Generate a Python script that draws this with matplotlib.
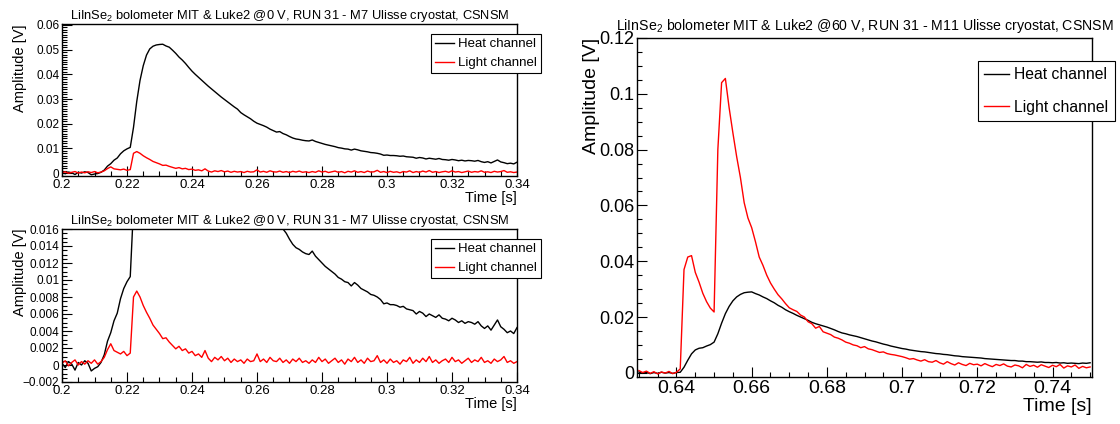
import numpy as np
import matplotlib
matplotlib.use("Agg")
import matplotlib.pyplot as plt
from matplotlib.ticker import MultipleLocator

plt.rcParams['font.family'] = ['Liberation Sans', 'DejaVu Sans']
plt.rcParams['mathtext.fontset'] = 'custom'
plt.rcParams['mathtext.rm'] = 'Liberation Sans'
plt.rcParams['mathtext.it'] = 'Liberation Sans'

# ---- 0 V pulse (left panels), 1 ms sampling from 0.200 s to 0.340 s ----
t0_start, t0_step = 0.200, 0.001
heat_0v = [
    0.0002, -0.0003, 0.0004, 0.0001, -0.0006, 0.0003, 0.0000, 0.0005, 0.0002, -0.0007,
    -0.0004, -0.0002, 0.0003, 0.0012, 0.0028, 0.0038, 0.0052, 0.0061, 0.0078, 0.0090,
    0.0098, 0.0104, 0.0185, 0.0290, 0.0375, 0.0435, 0.0478, 0.0503, 0.0514, 0.0519,
    0.0521, 0.0522, 0.0515, 0.0510, 0.0498, 0.0485, 0.0470, 0.0458, 0.0444, 0.0428,
    0.0413, 0.0400, 0.0388, 0.0376, 0.0364, 0.0352, 0.0341, 0.0330, 0.0319, 0.0308,
    0.0298, 0.0288, 0.0278, 0.0268, 0.0259, 0.0245, 0.0236, 0.0228, 0.0220, 0.0210,
    0.0202, 0.0197, 0.0192, 0.0186, 0.0178, 0.0172, 0.0166, 0.0168, 0.0160, 0.0155,
    0.0148, 0.0142, 0.0138, 0.0136, 0.0133, 0.0131, 0.0130, 0.0134, 0.0128, 0.0124,
    0.0120, 0.0116, 0.0113, 0.0110, 0.0107, 0.0103, 0.0101, 0.0098, 0.0097, 0.0093,
    0.0097, 0.0094, 0.0090, 0.0088, 0.0086, 0.0083, 0.0082, 0.0080, 0.0077, 0.0072,
    0.0073, 0.0071, 0.0071, 0.0070, 0.0068, 0.0069, 0.0066, 0.0065, 0.0064, 0.0060,
    0.0063, 0.0061, 0.0057, 0.0060, 0.0058, 0.0056, 0.0059, 0.0055, 0.0054, 0.0052,
    0.0055, 0.0053, 0.0050, 0.0052, 0.0049, 0.0051, 0.0050, 0.0048, 0.0051, 0.0046,
    0.0043, 0.0046, 0.0041, 0.0047, 0.0053, 0.0045, 0.0042, 0.0038, 0.0040, 0.0037,
    0.0044,
]
light_0v = [
    0.0002, 0.0005, -0.0001, 0.0003, 0.0006, 0.0000, 0.0004, 0.0001, 0.0005, 0.0002,
    0.0006, 0.0001, 0.0004, 0.0009, 0.0018, 0.0025, 0.0017, 0.0015, 0.0013, 0.0016,
    0.0011, 0.0014, 0.0080, 0.0087, 0.0080, 0.0070, 0.0062, 0.0055, 0.0047, 0.0042,
    0.0037, 0.0031, 0.0032, 0.0027, 0.0023, 0.0019, 0.0022, 0.0017, 0.0019, 0.0014,
    0.0016, 0.0011, 0.0013, 0.0009, 0.0017, 0.0008, 0.0004, 0.0009, 0.0006, 0.0010,
    0.0005, 0.0008, 0.0003, 0.0007, 0.0004, 0.0006, 0.0002, 0.0007, 0.0004, 0.0005,
    0.0013, 0.0004, 0.0007, 0.0003, 0.0009, 0.0005, 0.0004, 0.0008, 0.0003, 0.0006,
    0.0002, 0.0007, 0.0004, 0.0008, 0.0003, 0.0005, 0.0002, 0.0006, 0.0003, 0.0009,
    0.0004, 0.0007, 0.0002, 0.0005, 0.0008, 0.0003, 0.0006, 0.0001, 0.0007, 0.0004,
    0.0009, 0.0003, 0.0006, 0.0002, 0.0008, 0.0004, 0.0005, 0.0011, 0.0003, 0.0006,
    0.0002, 0.0007, 0.0003, 0.0005, 0.0001, 0.0006, 0.0004, 0.0009, 0.0002, 0.0006,
    0.0003, 0.0008, 0.0004, 0.0010, 0.0003, 0.0006, 0.0002, 0.0005, 0.0007, 0.0003,
    0.0009, 0.0004, 0.0006, 0.0002, 0.0005, 0.0008, 0.0003, 0.0006, 0.0004, 0.0009,
    0.0003, 0.0005, 0.0002, 0.0007, 0.0004, 0.0006, 0.0010, 0.0003, 0.0005, 0.0002,
    0.0004,
]

# ---- 60 V pulse (right panel), 1 ms sampling from 0.630 s to 0.750 s ----
t60_start, t60_step = 0.630, 0.001
heat_60v = [
    0.0003, -0.0002, 0.0002, -0.0003, 0.0001, -0.0002, 0.0002, -0.0001, 0.0001, -0.0002,
    0.0001, 0.0002, 0.0020, 0.0045, 0.0068, 0.0082, 0.0088, 0.0090, 0.0096, 0.0101,
    0.0110, 0.0140, 0.0178, 0.0212, 0.0238, 0.0258, 0.0272, 0.0281, 0.0287, 0.0289,
    0.0290, 0.0284, 0.0279, 0.0272, 0.0266, 0.0258, 0.0251, 0.0242, 0.0235, 0.0226,
    0.0219, 0.0213, 0.0206, 0.0200, 0.0194, 0.0188, 0.0181, 0.0176, 0.0172, 0.0168,
    0.0164, 0.0159, 0.0154, 0.0148, 0.0143, 0.0140, 0.0136, 0.0133, 0.0130, 0.0126,
    0.0122, 0.0118, 0.0114, 0.0111, 0.0107, 0.0103, 0.0100, 0.0096, 0.0093, 0.0090,
    0.0087, 0.0085, 0.0082, 0.0080, 0.0078, 0.0076, 0.0075, 0.0073, 0.0071, 0.0069,
    0.0068, 0.0066, 0.0065, 0.0063, 0.0061, 0.0060, 0.0058, 0.0057, 0.0056, 0.0055,
    0.0054, 0.0053, 0.0051, 0.0050, 0.0049, 0.0048, 0.0047, 0.0046, 0.0045, 0.0044,
    0.0044, 0.0042, 0.0042, 0.0040, 0.0040, 0.0039, 0.0038, 0.0039, 0.0037, 0.0037,
    0.0036, 0.0037, 0.0035, 0.0036, 0.0034, 0.0035, 0.0034, 0.0033, 0.0035, 0.0034,
    0.0036,
]
light_60v = [
    0.0008, 0.0001, 0.0006, -0.0002, 0.0004, -0.0004, 0.0003, -0.0001, 0.0005, -0.0003,
    0.0002, 0.0014, 0.0370, 0.0415, 0.0420, 0.0360, 0.0325, 0.0285, 0.0255, 0.0232,
    0.0218, 0.0800, 0.1040, 0.1055, 0.0950, 0.0860, 0.0775, 0.0700, 0.0610, 0.0555,
    0.0520, 0.0470, 0.0415, 0.0385, 0.0350, 0.0322, 0.0300, 0.0280, 0.0265, 0.0248,
    0.0233, 0.0226, 0.0220, 0.0207, 0.0200, 0.0183, 0.0176, 0.0160, 0.0166, 0.0147,
    0.0142, 0.0137, 0.0128, 0.0124, 0.0118, 0.0110, 0.0106, 0.0100, 0.0097, 0.0090,
    0.0094, 0.0086, 0.0083, 0.0078, 0.0073, 0.0075, 0.0069, 0.0066, 0.0064, 0.0061,
    0.0058, 0.0054, 0.0049, 0.0051, 0.0046, 0.0042, 0.0047, 0.0040, 0.0038, 0.0044,
    0.0036, 0.0031, 0.0040, 0.0033, 0.0028, 0.0036, 0.0030, 0.0026, 0.0034, 0.0029,
    0.0031, 0.0025, 0.0033, 0.0027, 0.0022, 0.0030, 0.0026, 0.0032, 0.0024, 0.0021,
    0.0028, 0.0025, 0.0018, 0.0030, 0.0023, 0.0027, 0.0020, 0.0029, 0.0024, 0.0019,
    0.0027, 0.0022, 0.0030, 0.0017, 0.0025, 0.0021, 0.0028, 0.0016, 0.0023, 0.0018,
    0.0021,
]

time_0v = t0_start + t0_step * np.arange(len(heat_0v))
time_60v = t60_start + t60_step * np.arange(len(heat_60v))

title_0v = "LiInSe$_2$ bolometer MIT & Luke2 @0 V, RUN 31 - M7 Ulisse cryostat, CSNSM"
title_60v = "LiInSe$_2$ bolometer MIT & Luke2 @60 V, RUN 31 - M11 Ulisse cryostat, CSNSM"

W, H = 1120, 424
fig = plt.figure(figsize=(W / 100, H / 100), dpi=100)


def px_axes(left, top, right, bottom):
    return fig.add_axes([left / W, 1 - bottom / H, (right - left) / W, (bottom - top) / H])


def root_style(ax, fs_tick_x, fs_tick_y, xmaj, xmin, ymaj, ymin):
    ax.xaxis.set_major_locator(MultipleLocator(xmaj))
    ax.xaxis.set_minor_locator(MultipleLocator(xmin))
    ax.yaxis.set_major_locator(MultipleLocator(ymaj))
    ax.yaxis.set_minor_locator(MultipleLocator(ymin))
    ax.tick_params(which='both', direction='in', top=False, right=False)
    ax.tick_params(which='major', length=7, width=0.8)
    ax.tick_params(which='minor', length=3.5, width=0.8)
    ax.tick_params(axis='x', labelsize=fs_tick_x, pad=2)
    ax.tick_params(axis='y', labelsize=fs_tick_y, pad=2)
    ax.xaxis.set_major_formatter(plt.FuncFormatter(lambda v, p: ('%g' % round(v, 6))))
    ax.yaxis.set_major_formatter(plt.FuncFormatter(
        lambda v, p: ('%g' % round(v, 6)).replace('-', '\u2212')))
    for s in ax.spines.values():
        s.set_linewidth(1.0)


def add_legend(ax, left, top, fs, hlen, lspace, bpad):
    leg = ax.legend(loc='upper left', bbox_to_anchor=(left / W, 1 - top / H),
                    bbox_transform=fig.transFigure, fontsize=fs, fancybox=False,
                    framealpha=1, edgecolor='black', handlelength=hlen,
                    handletextpad=0.3, labelspacing=lspace, borderpad=bpad,
                    borderaxespad=0)
    leg.get_frame().set_linewidth(0.8)
    return leg


def place_ylabel(ax, text, fs, right_px, top_px):
    ax.set_ylabel(text, fontsize=fs, loc='top')
    ax.yaxis.set_label_coords(right_px / W, 1 - top_px / H, transform=fig.transFigure)


# top-left: full 0 V pulse
ax1 = px_axes(62, 24, 517, 176)
ax1.plot(time_0v, heat_0v, color='black', lw=1.0, label='Heat channel')
ax1.plot(time_0v, light_0v, color='red', lw=1.0, label='Light channel')
ax1.set_xlim(0.2, 0.34)
ax1.set_ylim(-0.0012, 0.0604)
root_style(ax1, 9.5, 8.5, 0.02, 0.005, 0.01, 0.001)
ax1.set_title(title_0v, fontsize=9.3, pad=3)
ax1.set_xlabel('Time [s]', fontsize=10.5, loc='right', labelpad=0)
place_ylabel(ax1, 'Amplitude [V]', 10.5, 27, 24)
add_legend(ax1, 431, 34, 9.5, 1.45, 0.53, 0.3)

# bottom-left: zoom on the baseline of the same pulse
ax2 = px_axes(62, 229, 517, 382)
ax2.plot(time_0v, heat_0v, color='black', lw=1.0, label='Heat channel')
ax2.plot(time_0v, light_0v, color='red', lw=1.0, label='Light channel')
ax2.set_xlim(0.2, 0.34)
ax2.set_ylim(-0.002, 0.016)
root_style(ax2, 9.5, 8.5, 0.02, 0.005, 0.002, 0.0005)
ax2.set_title(title_0v, fontsize=9.3, pad=3)
ax2.set_xlabel('Time [s]', fontsize=10.5, loc='right', labelpad=0)
place_ylabel(ax2, 'Amplitude [V]', 10.5, 27, 229)
add_legend(ax2, 431, 239, 9.5, 1.45, 0.53, 0.3)

# right: 60 V pulse
ax3 = px_axes(637, 38, 1092, 377)
ax3.plot(time_60v, heat_60v, color='black', lw=1.0, label='Heat channel')
ax3.plot(time_60v, light_60v, color='red', lw=1.0, label='Light channel')
ax3.set_xlim(0.6295, 0.7505)
ax3.set_ylim(-0.0015, 0.12)
root_style(ax3, 14, 13, 0.02, 0.005, 0.02, 0.005)
ax3.set_title(title_60v, fontsize=10.2, pad=6)
ax3.set_xlabel('Time [s]', fontsize=14, loc='right', labelpad=1)
place_ylabel(ax3, 'Amplitude [V]', 14, 600, 38)
add_legend(ax3, 978, 61, 11.3, 1.6, 1.1, 0.4)

fig.savefig('out.png', dpi=100)
